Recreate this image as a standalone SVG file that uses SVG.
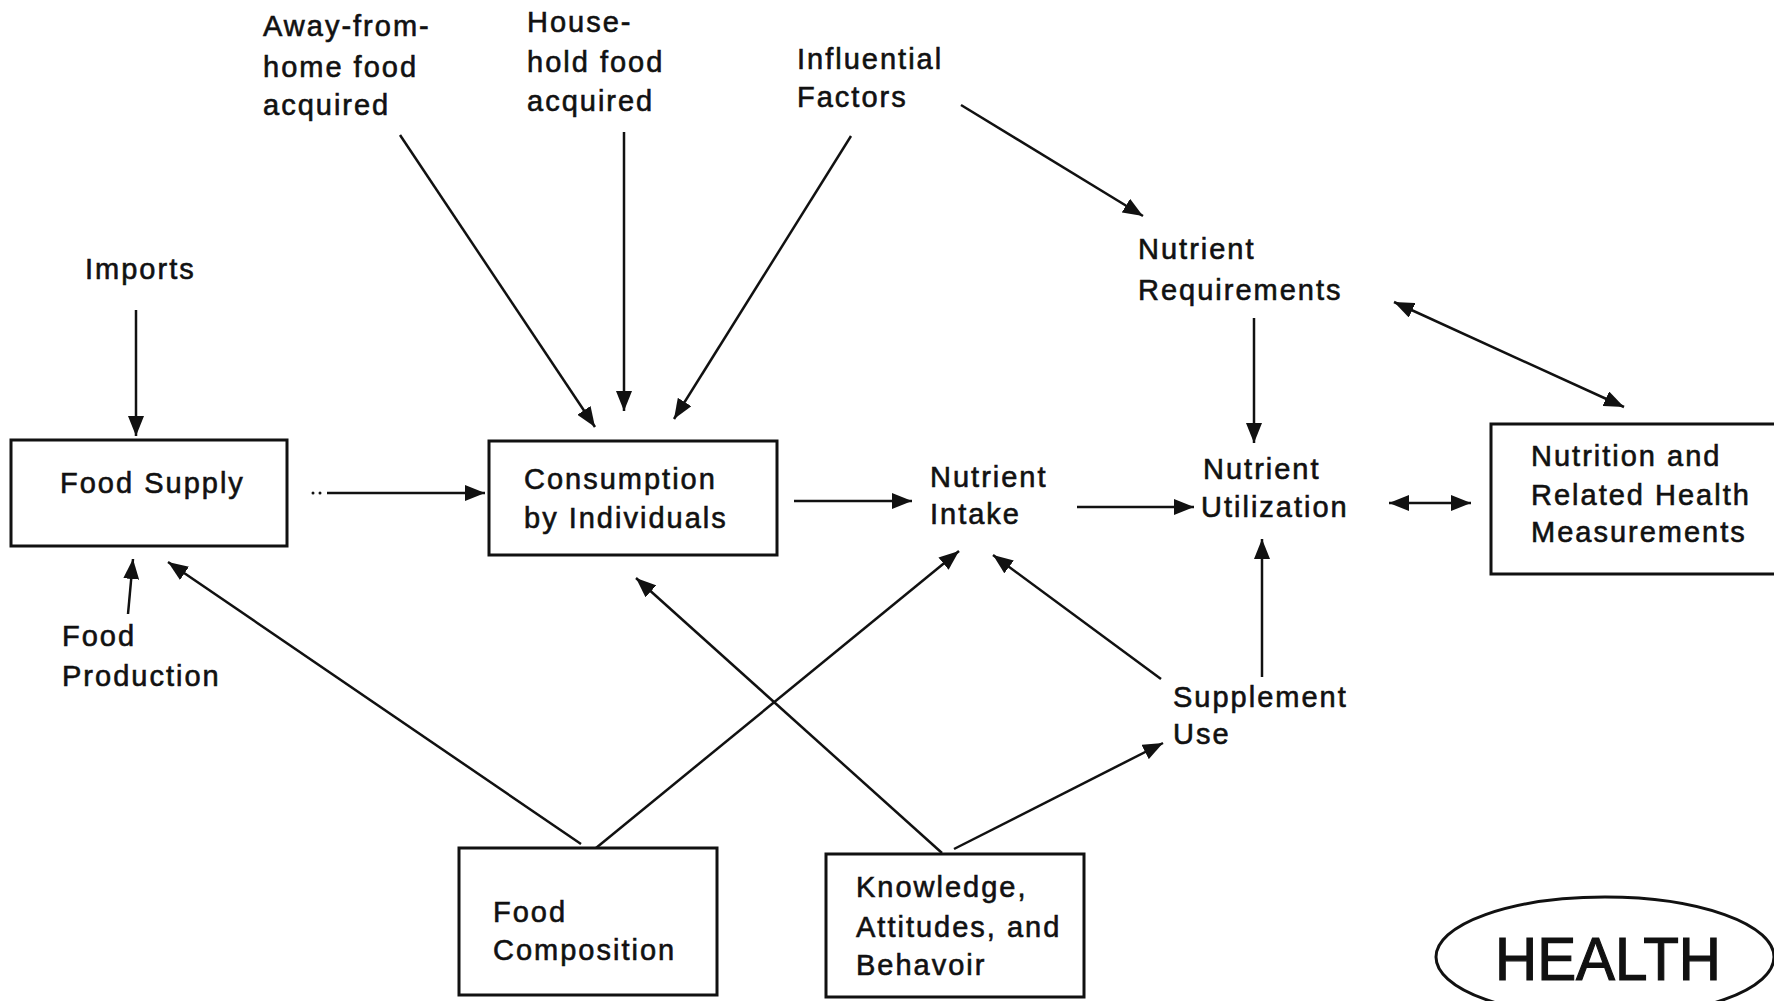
<svg xmlns="http://www.w3.org/2000/svg" width="1774" height="1001" viewBox="0 0 1774 1001">
<style>
  text { font-family: "Liberation Sans", Arial, Helvetica, sans-serif; font-size: 29px; letter-spacing: 2px; fill: #111; stroke: #111; stroke-width: 0.6; }
  .box { fill: none; stroke: #111; stroke-width: 3; }
  .conn line { stroke: #111; stroke-width: 2.5; fill: none; }
  .arr { marker-end: url(#ah); }
  .both { marker-start: url(#ah); marker-end: url(#ah); }
</style>
<defs>
  <marker id="ah" markerUnits="userSpaceOnUse" markerWidth="22" markerHeight="16" refX="20" refY="8" orient="auto-start-reverse">
    <path d="M0,0 L20,8 L0,16 z" fill="#111"/>
  </marker>
</defs>
<rect width="1774" height="1001" fill="#fff"/>

<g id="connectors" class="conn">
  <line class="arr" x1="136" y1="310" x2="136" y2="436"/>
  <line class="arr" x1="128" y1="614" x2="133" y2="559"/>
  <line class="arr" x1="581" y1="844" x2="168" y2="562"/>
  <line class="arr" x1="327" y1="493" x2="485" y2="493"/>
  <circle cx="313" cy="493" r="1.5" fill="#111"/>
  <circle cx="320" cy="493" r="1.5" fill="#111"/>
  <line class="arr" x1="400" y1="135" x2="595" y2="427"/>
  <line class="arr" x1="624" y1="132" x2="624" y2="411"/>
  <line class="arr" x1="851" y1="136" x2="674" y2="419"/>
  <line class="arr" x1="942" y1="853" x2="636" y2="578"/>
  <line class="arr" x1="794" y1="501" x2="912" y2="501"/>
  <line class="arr" x1="596" y1="848" x2="959" y2="551"/>
  <line class="arr" x1="1161" y1="679" x2="993" y2="555"/>
  <line class="arr" x1="1077" y1="507" x2="1194" y2="507"/>
  <line class="arr" x1="961" y1="105" x2="1143" y2="216"/>
  <line class="arr" x1="1254" y1="318" x2="1254" y2="443"/>
  <line class="arr" x1="1262" y1="677" x2="1262" y2="539"/>
  <line class="both" x1="1394" y1="302" x2="1624" y2="407"/>
  <line class="both" x1="1389" y1="503" x2="1471" y2="503"/>
  <line class="arr" x1="954" y1="849" x2="1163" y2="743"/>
</g>

<g id="away-from-home">
  <text x="263" y="36">Away-from-</text>
  <text x="263" y="77">home food</text>
  <text x="263" y="115">acquired</text>
</g>
<g id="household">
  <text x="527" y="32">House-</text>
  <text x="527" y="72">hold food</text>
  <text x="527" y="111">acquired</text>
</g>
<g id="influential">
  <text x="797" y="69">Influential</text>
  <text x="797" y="107">Factors</text>
</g>
<g id="imports">
  <text x="85" y="279">Imports</text>
</g>
<g id="nutrient-requirements">
  <text x="1138" y="259">Nutrient</text>
  <text x="1138" y="300">Requirements</text>
</g>
<g id="food-supply">
  <rect class="box" x="11" y="440" width="276" height="106"/>
  <text x="60" y="493">Food Supply</text>
</g>
<g id="consumption">
  <rect class="box" x="489" y="441" width="288" height="114"/>
  <text x="524" y="489">Consumption</text>
  <text x="524" y="528">by Individuals</text>
</g>
<g id="nutrient-intake">
  <text x="930" y="487">Nutrient</text>
  <text x="930" y="524">Intake</text>
</g>
<g id="nutrient-utilization">
  <text x="1203" y="479">Nutrient</text>
  <text x="1201" y="517">Utilization</text>
</g>
<g id="nutrition-measurements">
  <rect class="box" x="1491" y="424" width="300" height="150"/>
  <text x="1531" y="466">Nutrition and</text>
  <text x="1531" y="505">Related Health</text>
  <text x="1531" y="542">Measurements</text>
</g>
<g id="food-production">
  <text x="62" y="646">Food</text>
  <text x="62" y="686">Production</text>
</g>
<g id="supplement-use">
  <text x="1173" y="707">Supplement</text>
  <text x="1173" y="744">Use</text>
</g>
<g id="food-composition">
  <rect class="box" x="459" y="848" width="258" height="147"/>
  <text x="493" y="922">Food</text>
  <text x="493" y="960">Composition</text>
</g>
<g id="knowledge">
  <rect class="box" x="826" y="854" width="258" height="143"/>
  <text x="856" y="897">Knowledge,</text>
  <text x="856" y="937">Attitudes, and</text>
  <text x="856" y="975">Behavoir</text>
</g>
<g id="health">
  <ellipse cx="1605" cy="957" rx="169" ry="60" fill="none" stroke="#111" stroke-width="3"/>
  <text x="1495" y="980" style="font-size:62px;letter-spacing:0;stroke-width:1.2" textLength="226" lengthAdjust="spacingAndGlyphs">HEALTH</text>
</g>
</svg>
